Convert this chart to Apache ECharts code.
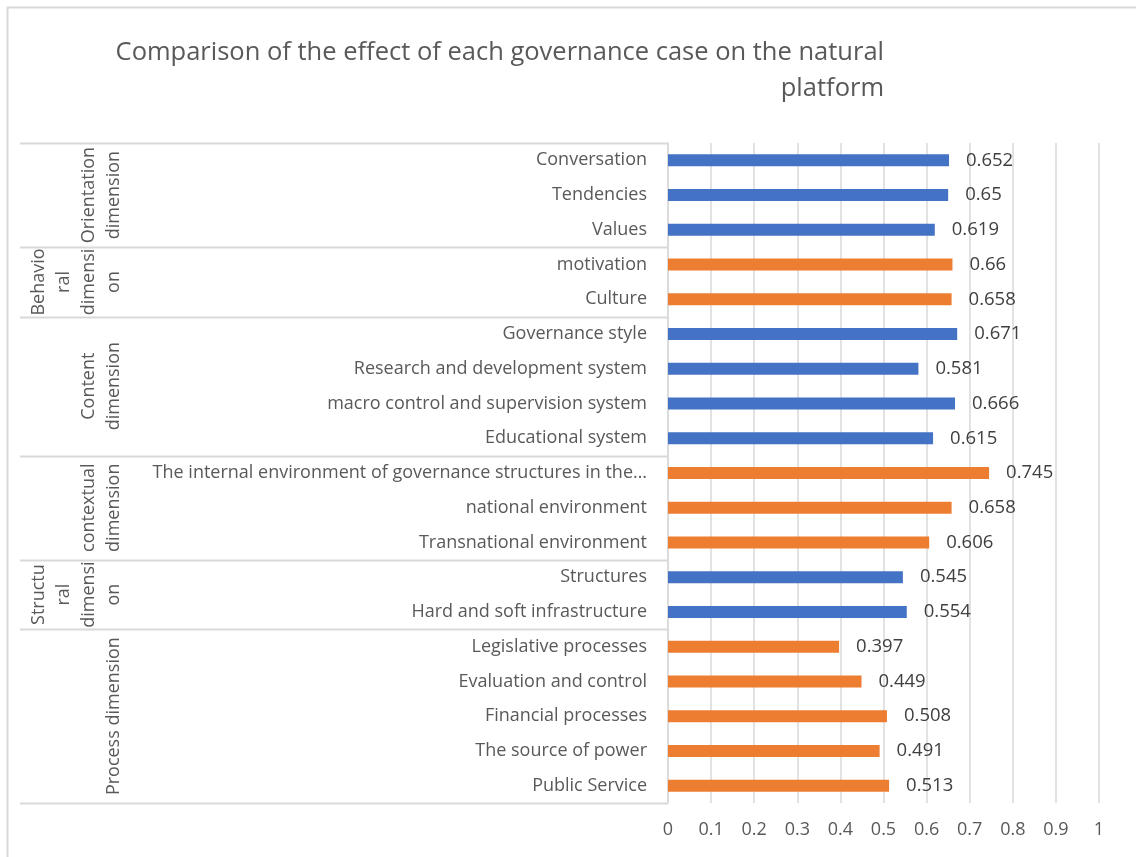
<!DOCTYPE html>
<html>
<head>
<meta charset="utf-8">
<script src="https://cdn.jsdelivr.net/npm/echarts@6/dist/echarts.min.js"></script>
<style>
  html, body { margin: 0; padding: 0; background: #ffffff; }
  #chart { width: 1136px; height: 857px; }
</style>
</head>
<body>
<div id="chart"></div>
<script>
// Chart text
const titleLines = ['Comparison of the effect of each governance case on the natural', 'platform'];

// Inner categories, top to bottom
const categories = [
  'Conversation', 'Tendencies', 'Values',
  'motivation', 'Culture',
  'Governance style', 'Research and development system', 'macro control and supervision system', 'Educational system',
  'The internal environment of governance structures in the\u2026', 'national environment', 'Transnational environment',
  'Structures', 'Hard and soft infrastructure',
  'Legislative processes', 'Evaluation and control', 'Financial processes', 'The source of power', 'Public Service'
];

// Effect values, same order as categories
const values = [
  0.652, 0.65, 0.619,
  0.66, 0.658,
  0.671, 0.581, 0.666, 0.615,
  0.745, 0.658, 0.606,
  0.545, 0.554,
  0.397, 0.449, 0.508, 0.491, 0.513
];

// Outer dimension groups (wrapped as displayed) and how many categories each spans
const groupLabels = [
  'Orientation\ndimension',
  'Behavio\nral\ndimensi\non',
  'Content\ndimension',
  'contextual\ndimension',
  'Structu\nral\ndimensi\non',
  'Process dimension'
];
const groupSizes = [3, 2, 4, 3, 2, 5];

// Value axis tick labels
const xTicks = ['0', '0.1', '0.2', '0.3', '0.4', '0.5', '0.6', '0.7', '0.8', '0.9', '1'];

const BLUE = '#4472C4';
const ORANGE = '#ED7D31';
const GRID_COLOR = '#D9D9D9';
const TEXT_COLOR = '#595959';
const FONT = '"Open Sans", "Noto Sans", sans-serif';
const FS = 18;

// Alternate the bar colour per group
const groupColors = groupSizes.map((_, i) => (i % 2 === 0 ? BLUE : ORANGE));
const barColors = [];
groupSizes.forEach((n, g) => { for (let k = 0; k < n; k++) barColors.push(groupColors[g]); });

const chart = echarts.init(document.getElementById('chart'), null, { renderer: 'canvas' });

const option = {
  backgroundColor: '#ffffff',
  animation: false,
  grid: {
    left: 668,
    right: 37,
    top: 143,
    bottom: 54,
    containLabel: false
  },
  xAxis: {
    type: 'value',
    min: 0,
    max: 1,
    interval: 0.1,
    axisLine: { show: false },
    axisTick: { show: false },
    splitLine: { show: true, lineStyle: { color: GRID_COLOR, width: 1.5 } },
    axisLabel: {
      margin: 18,
      fontFamily: FONT,
      fontSize: FS,
      color: TEXT_COLOR,
      formatter: (v) => xTicks[Math.round(v * 10)]
    }
  },
  yAxis: {
    type: 'category',
    inverse: true,
    data: categories,
    axisLine: { show: true, lineStyle: { color: GRID_COLOR, width: 1.5 } },
    axisTick: { show: false },
    axisLabel: {
      margin: 21,
      fontFamily: FONT,
      fontSize: FS,
      color: TEXT_COLOR,
      interval: 0,
      padding: [3, 0, 0, 0]
    }
  },
  series: [{
    type: 'bar',
    data: values.map((v, i) => ({ value: v, itemStyle: { color: barColors[i] } })),
    barWidth: 12,
    label: {
      show: true,
      position: 'right',
      distance: 17,
      fontFamily: FONT,
      fontSize: 18.5,
      color: '#404040',
      padding: [3, 0, 0, 0],
      formatter: (p) => String(p.value)
    }
  }]
};

chart.setOption(option);

// Group separators and rotated group labels, placed through the category axis scale
function boundaryY(idx) {
  const first = chart.convertToPixel({ yAxisIndex: 0 }, 0);
  const second = chart.convertToPixel({ yAxisIndex: 0 }, 1);
  const step = second - first;
  return first + (idx - 0.5) * step;
}

const axisX = chart.convertToPixel({ xAxisIndex: 0 }, 0);
const graphics = [];

// Outer chart frame
graphics.push({
  type: 'rect',
  shape: { x: 7.5, y: 7.5, width: 1300, height: 1000 },
  style: { fill: null, stroke: GRID_COLOR, lineWidth: 2 },
  silent: true,
  z: 0
});

// Title, right-aligned over two lines
titleLines.forEach((line, i) => {
  graphics.push({
    type: 'text',
    x: 884,
    y: 53 + i * 36,
    style: {
      text: line,
      fontFamily: FONT,
      fontSize: 25.5,
      fill: TEXT_COLOR,
      align: 'right',
      verticalAlign: 'middle'
    },
    silent: true
  });
});

let start = 0;
const bounds = [0];
groupSizes.forEach((n) => { start += n; bounds.push(start); });

bounds.forEach((b) => {
  const y = Math.round(boundaryY(b)) + 0.5;
  graphics.push({
    type: 'line',
    shape: { x1: 20, y1: y, x2: axisX, y2: y },
    style: { stroke: GRID_COLOR, lineWidth: 2 },
    silent: true
  });
});

groupLabels.forEach((txt, g) => {
  const y0 = boundaryY(bounds[g]);
  const y1 = boundaryY(bounds[g + 1]);
  graphics.push({
    type: 'text',
    x: 126,
    y: (y0 + y1) / 2,
    rotation: Math.PI / 2,
    style: {
      text: txt,
      fontFamily: FONT,
      fontSize: FS,
      fill: TEXT_COLOR,
      align: 'center',
      verticalAlign: 'bottom',
      lineHeight: 25
    },
    silent: true
  });
});

chart.setOption({ graphic: graphics });
</script>
</body>
</html>
